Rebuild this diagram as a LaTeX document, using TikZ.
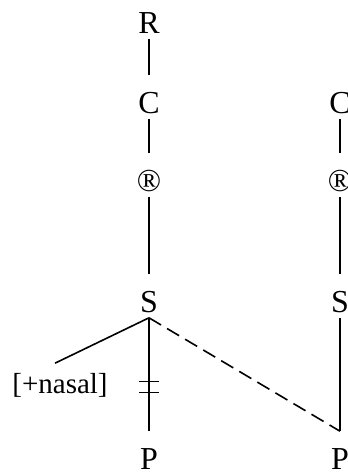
\documentclass[tikz,border=0pt]{standalone}
\usepackage{fontspec}
\setmainfont{Liberation Serif}

\begin{document}
\begin{tikzpicture}[x=1pt, y=-1pt, line width=1.6pt,
    every node/.style={inner sep=0pt, anchor=base, font=\fontsize{32}{36}\selectfont, text height=37pt, text depth=5pt},
    feat/.style={font=\fontsize{29}{32}\selectfont, text height=32pt, text depth=0pt},
    bottom/.style={text depth=0pt},
    assoc/.style={dash pattern=on 14pt off 7pt}]
    \useasboundingbox (0,0) rectangle (348,474);

    % left column
    \node (R) at (149,33) {R};
    \node (C) at (149,113) {C};
    \node (Reg) at (149,191) {®};
    \node (S) at (149,312) {S};
    \node[bottom] (P) at (149,469) {P};
    \node[feat] (nasal) at (60,393) {[+nasal]};

    % right column
    \node (C2) at (340,113) {C};
    \node (Reg2) at (340,191) {®};
    \node (S2) at (340,312) {S};
    \node[bottom] (P2) at (340,469) {P};

    \draw (R) -- (C);
    \draw (C) -- (Reg);
    \draw (Reg) -- (S);
    \draw (S.south) -- ([xshift=-5pt,yshift=-3pt]nasal.north);
    \draw (S.south) -- (P.north) coordinate[pos=0.56] (bar1) coordinate[pos=0.66] (bar2);
    \draw ([xshift=-10pt]bar1) -- ([xshift=10pt]bar1);
    \draw ([xshift=-10pt]bar2) -- ([xshift=10pt]bar2);
    \draw[assoc] (S.south) -- (P2.north);

    \draw (C2) -- (Reg2);
    \draw (Reg2) -- (S2);
    \draw (S2) -- (P2);
\end{tikzpicture}
\end{document}
